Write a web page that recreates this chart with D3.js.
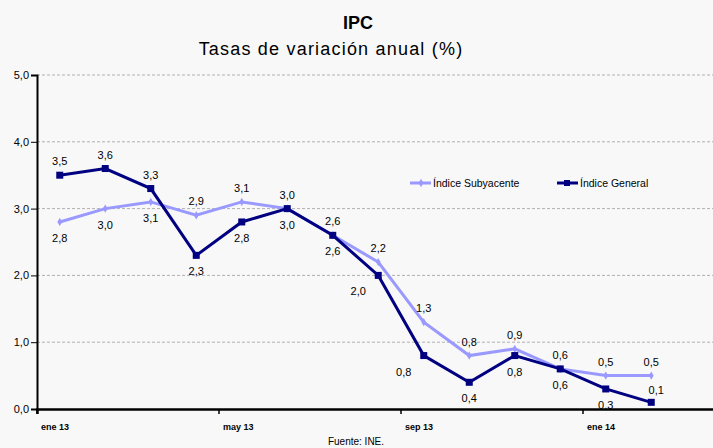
<!DOCTYPE html>
<html lang="es">
<head>
<meta charset="UTF-8">
<title>IPC</title>
<script src="https://cdnjs.cloudflare.com/ajax/libs/d3/7.8.5/d3.min.js"></script>
<style>
  body { margin: 0; background: #f8f8f8; }
  svg { display: block; font-family: "Liberation Sans", Arial, sans-serif; }
  .tick text { font-size: 10px; fill: #000; }
  .lbl { font-size: 11px; fill: #000; }
</style>
</head>
<body>
<div id="chart"></div>
<script>
// months (mar 14 left empty, the plot runs past the last point)
var months = ["ene 13","feb 13","mar 13","abr 13","may 13","jun 13","jul 13","ago 13",
              "sep 13","oct 13","nov 13","dic 13","ene 14","feb 14","mar 14"];
var tickMonths = ["ene 13","may 13","sep 13","ene 14"];
var yTicks = [0, 1, 2, 3, 4, 5];

var subyacente = [2.8, 3.0, 3.1, 2.9, 3.1, 3.0, 2.6, 2.2, 1.3, 0.8, 0.9, 0.6, 0.5, 0.5];
var general    = [3.5, 3.6, 3.3, 2.3, 2.8, 3.0, 2.6, 2.0, 0.8, 0.4, 0.8, 0.6, 0.3, 0.1];

var width = 713, height = 448;
var margin = {left: 37, top: 75, bottom: 39};

var svg = d3.select("#chart").append("svg")
    .attr("width", width)
    .attr("height", height);

svg.append("rect").attr("width", width).attr("height", height).attr("fill", "#f8f8f8");

var x = d3.scaleBand().domain(months).range([margin.left, margin.left + 45.5 * months.length]);
var y = d3.scaleLinear().domain([0, 5]).range([height - margin.bottom, margin.top]);
var fmt = function(v){ return d3.format(".1f")(v).replace(".", ","); };

// title
svg.append("text").attr("x", 358).attr("y", 29).attr("text-anchor", "middle")
    .style("font-size", "18px").style("font-weight", "bold").text("IPC");
svg.append("text").attr("x", 331).attr("y", 55).attr("text-anchor", "middle")
    .style("font-size", "18px").style("letter-spacing", "1.2px").text("Tasas de variación anual (%)");

// grid
svg.selectAll(".grid").data(yTicks.slice(1))
  .enter().append("line")
    .attr("x1", margin.left).attr("x2", width)
    .attr("y1", function(d){ return y(d); }).attr("y2", function(d){ return y(d); })
    .attr("stroke", "#b0b0b0").attr("stroke-dasharray", "3,2");

// y axis
var yAxis = svg.append("g")
    .attr("transform", "translate(" + margin.left + ",0)")
    .call(d3.axisLeft(y).tickValues(yTicks).tickFormat(fmt).tickSize(6).tickPadding(2));
yAxis.select(".domain").attr("stroke", "#000").attr("stroke-width", 2);
yAxis.selectAll(".tick line").attr("stroke", "#000");
yAxis.selectAll(".tick text").style("font-size", "11px");

// x axis, ticks on the band edges
var xAxis = svg.append("g")
    .attr("transform", "translate(0," + y(0) + ")")
    .call(d3.axisBottom(x).tickValues(tickMonths).tickSize(5).tickPadding(10));
xAxis.select(".domain").attr("stroke", "#000").attr("stroke-width", 2.5);
xAxis.selectAll(".tick").attr("transform", function(d){ return "translate(" + x(d) + ",0)"; });
xAxis.selectAll(".tick text").attr("text-anchor", "start").attr("x", 4)
    .style("font-size", "9px").style("font-weight", "bold");
xAxis.selectAll(".tick line").attr("stroke", "#000").attr("stroke-width", 1.5);

svg.append("text").attr("x", 356).attr("y", 445).attr("text-anchor", "middle")
    .style("font-size", "10px").text("Fuente: INE.");

var cx = function(d, i){ return x(months[i]) + x.bandwidth() / 2; };
var line = d3.line().x(cx).y(function(d){ return y(d); });

// subyacente
svg.append("path").datum(subyacente)
    .attr("d", line).attr("fill", "none").attr("stroke", "#9999ff").attr("stroke-width", 3);
svg.selectAll(".msub").data(subyacente).enter().append("path")
    .attr("d", d3.symbol().type(d3.symbolDiamond).size(20))
    .attr("transform", function(d, i){ return "translate(" + cx(d, i) + "," + y(d) + ")"; })
    .attr("fill", "#9999ff");

// general
svg.append("path").datum(general)
    .attr("d", line).attr("fill", "none").attr("stroke", "#000080").attr("stroke-width", 3);
svg.selectAll(".mgen").data(general).enter().append("rect")
    .attr("x", function(d, i){ return cx(d, i) - 3.5; })
    .attr("y", function(d){ return y(d) - 3.5; })
    .attr("width", 7).attr("height", 7)
    .attr("fill", "#000080");

// data labels: the higher series above, the lower one below
svg.selectAll(".lsub").data(subyacente).enter().append("text")
    .attr("class", "lbl").attr("text-anchor", "middle")
    .attr("x", cx)
    .attr("y", function(d, i){ return d >= general[i] ? y(d) - 10 : y(d) + 20; })
    .text(fmt);

svg.selectAll(".lgen").data(general).enter().append("text")
    .attr("class", "lbl").attr("text-anchor", "middle")
    .attr("x", function(d, i){
        if (d < 0.2) return cx(d, i) + 5;
        // steep drop: label sits to the left of the point
        if (i > 0 && i < general.length - 1 && general[i - 1] - general[i + 1] > 1.5) return cx(d, i) - 20;
        return cx(d, i);
    })
    .attr("y", function(d, i){
        if (d > subyacente[i]) return y(d) - 10;
        if (d < 0.2) return y(d) - 8;
        return y(d) + 20;
    })
    .text(fmt);

// legend
var legend = [["Índice Subyacente", "#9999ff", 410], ["Índice General", "#000080", 557]];
legend.forEach(function(l, k){
    var g = svg.append("g").attr("transform", "translate(" + l[2] + ",183)");
    g.append("line").attr("x1", 0).attr("x2", 21).attr("stroke", l[1]).attr("stroke-width", 3);
    if (k == 0) g.append("path").attr("d", d3.symbol().type(d3.symbolDiamond).size(20)).attr("transform", "translate(11,0)").attr("fill", l[1]);
    else g.append("rect").attr("x", 7).attr("y", -3).attr("width", 6).attr("height", 6).attr("fill", l[1]);
    g.append("text").attr("x", 23).attr("y", 4).style("font-size", "10.5px").text(l[0]);
});
</script>
</body>
</html>
